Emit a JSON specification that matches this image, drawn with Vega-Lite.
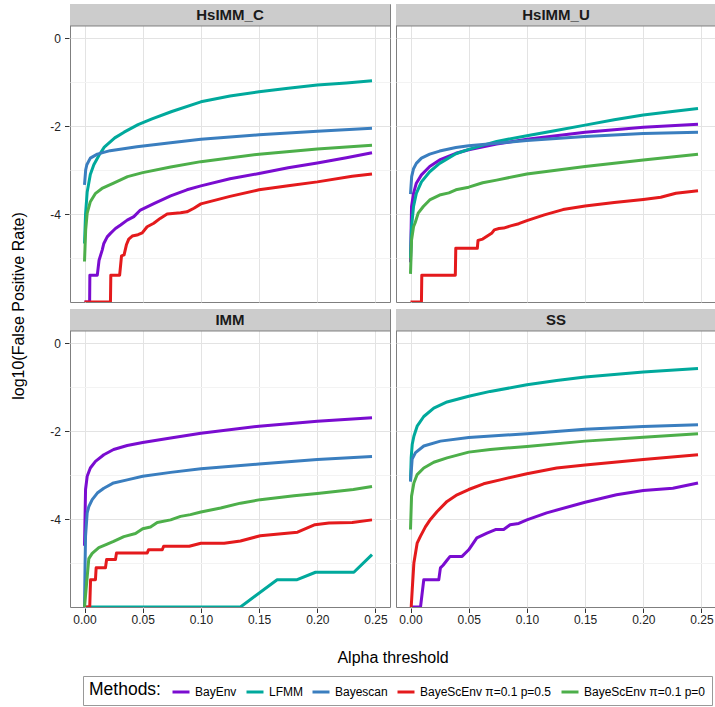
{
  "$schema": "https://vega.github.io/schema/vega-lite/v6.json",
  "padding": {"left": 10, "top": 3, "right": 1, "bottom": 1},
  "background": "white",
  "datasets": {
    "panels": [
      {"p": "HsIMM_C", "r": 1, "c": 1},
      {"p": "HsIMM_U", "r": 1, "c": 2},
      {"p": "IMM", "r": 2, "c": 1},
      {"p": "SS", "r": 2, "c": 2}
    ],
    "methods": [
      {"k": "E", "m": "BayEnv"},
      {"k": "L", "m": "LFMM"},
      {"k": "B", "m": "Bayescan"},
      {"k": "R", "m": "BayeScEnv π=0.1 p=0.5"},
      {"k": "G", "m": "BayeScEnv π=0.1 p=0"}
    ],
    "pts": [
      {"p":"HsIMM_C","k":"E","a":0,"f":-6},{"p":"HsIMM_C","k":"E","a":0.0044,"f":-6},{"p":"HsIMM_C","k":"E","a":0.0046,"f":-5.39},{"p":"HsIMM_C","k":"E","a":0.011,"f":-5.39},{"p":"HsIMM_C","k":"E","a":0.0125,"f":-5.05},{"p":"HsIMM_C","k":"E","a":0.0152,"f":-4.82},{"p":"HsIMM_C","k":"E","a":0.0166,"f":-4.67},{"p":"HsIMM_C","k":"E","a":0.0195,"f":-4.52},{"p":"HsIMM_C","k":"E","a":0.0223,"f":-4.44},{"p":"HsIMM_C","k":"E","a":0.0266,"f":-4.33},{"p":"HsIMM_C","k":"E","a":0.031,"f":-4.25},{"p":"HsIMM_C","k":"E","a":0.0367,"f":-4.14},{"p":"HsIMM_C","k":"E","a":0.0424,"f":-4.06},{"p":"HsIMM_C","k":"E","a":0.048,"f":-3.91},{"p":"HsIMM_C","k":"E","a":0.06,"f":-3.76},{"p":"HsIMM_C","k":"E","a":0.074,"f":-3.59},{"p":"HsIMM_C","k":"E","a":0.088,"f":-3.45},{"p":"HsIMM_C","k":"E","a":0.1,"f":-3.36},{"p":"HsIMM_C","k":"E","a":0.125,"f":-3.2},{"p":"HsIMM_C","k":"E","a":0.15,"f":-3.08},{"p":"HsIMM_C","k":"E","a":0.175,"f":-2.95},{"p":"HsIMM_C","k":"E","a":0.2,"f":-2.84},{"p":"HsIMM_C","k":"E","a":0.225,"f":-2.72},{"p":"HsIMM_C","k":"E","a":0.247,"f":-2.61},
      {"p":"HsIMM_C","k":"L","a":0,"f":-4.67},{"p":"HsIMM_C","k":"L","a":0.0009,"f":-4.0},{"p":"HsIMM_C","k":"L","a":0.0023,"f":-3.5},{"p":"HsIMM_C","k":"L","a":0.005,"f":-3.1},{"p":"HsIMM_C","k":"L","a":0.008,"f":-2.88},{"p":"HsIMM_C","k":"L","a":0.0126,"f":-2.66},{"p":"HsIMM_C","k":"L","a":0.017,"f":-2.48},{"p":"HsIMM_C","k":"L","a":0.026,"f":-2.27},{"p":"HsIMM_C","k":"L","a":0.034,"f":-2.14},{"p":"HsIMM_C","k":"L","a":0.046,"f":-1.97},{"p":"HsIMM_C","k":"L","a":0.058,"f":-1.84},{"p":"HsIMM_C","k":"L","a":0.075,"f":-1.67},{"p":"HsIMM_C","k":"L","a":0.1,"f":-1.45},{"p":"HsIMM_C","k":"L","a":0.125,"f":-1.32},{"p":"HsIMM_C","k":"L","a":0.15,"f":-1.22},{"p":"HsIMM_C","k":"L","a":0.175,"f":-1.14},{"p":"HsIMM_C","k":"L","a":0.2,"f":-1.07},{"p":"HsIMM_C","k":"L","a":0.225,"f":-1.02},{"p":"HsIMM_C","k":"L","a":0.247,"f":-0.97},
      {"p":"HsIMM_C","k":"B","a":0,"f":-3.34},{"p":"HsIMM_C","k":"B","a":0.001,"f":-3.0},{"p":"HsIMM_C","k":"B","a":0.002,"f":-2.88},{"p":"HsIMM_C","k":"B","a":0.005,"f":-2.73},{"p":"HsIMM_C","k":"B","a":0.011,"f":-2.64},{"p":"HsIMM_C","k":"B","a":0.022,"f":-2.56},{"p":"HsIMM_C","k":"B","a":0.045,"f":-2.47},{"p":"HsIMM_C","k":"B","a":0.074,"f":-2.38},{"p":"HsIMM_C","k":"B","a":0.1,"f":-2.3},{"p":"HsIMM_C","k":"B","a":0.15,"f":-2.2},{"p":"HsIMM_C","k":"B","a":0.2,"f":-2.12},{"p":"HsIMM_C","k":"B","a":0.247,"f":-2.05},
      {"p":"HsIMM_C","k":"R","a":0,"f":-6},{"p":"HsIMM_C","k":"R","a":0.0223,"f":-6},{"p":"HsIMM_C","k":"R","a":0.0226,"f":-5.39},{"p":"HsIMM_C","k":"R","a":0.0302,"f":-5.39},{"p":"HsIMM_C","k":"R","a":0.0318,"f":-4.95},{"p":"HsIMM_C","k":"R","a":0.034,"f":-4.93},{"p":"HsIMM_C","k":"R","a":0.036,"f":-4.7},{"p":"HsIMM_C","k":"R","a":0.038,"f":-4.57},{"p":"HsIMM_C","k":"R","a":0.041,"f":-4.5},{"p":"HsIMM_C","k":"R","a":0.046,"f":-4.47},{"p":"HsIMM_C","k":"R","a":0.0496,"f":-4.43},{"p":"HsIMM_C","k":"R","a":0.0538,"f":-4.29},{"p":"HsIMM_C","k":"R","a":0.0595,"f":-4.21},{"p":"HsIMM_C","k":"R","a":0.065,"f":-4.1},{"p":"HsIMM_C","k":"R","a":0.071,"f":-4.0},{"p":"HsIMM_C","k":"R","a":0.0825,"f":-3.97},{"p":"HsIMM_C","k":"R","a":0.088,"f":-3.95},{"p":"HsIMM_C","k":"R","a":0.094,"f":-3.87},{"p":"HsIMM_C","k":"R","a":0.1,"f":-3.77},{"p":"HsIMM_C","k":"R","a":0.125,"f":-3.6},{"p":"HsIMM_C","k":"R","a":0.15,"f":-3.45},{"p":"HsIMM_C","k":"R","a":0.175,"f":-3.36},{"p":"HsIMM_C","k":"R","a":0.2,"f":-3.27},{"p":"HsIMM_C","k":"R","a":0.23,"f":-3.14},{"p":"HsIMM_C","k":"R","a":0.247,"f":-3.09},
      {"p":"HsIMM_C","k":"G","a":0,"f":-5.08},{"p":"HsIMM_C","k":"G","a":0.001,"f":-4.36},{"p":"HsIMM_C","k":"G","a":0.0023,"f":-3.98},{"p":"HsIMM_C","k":"G","a":0.005,"f":-3.72},{"p":"HsIMM_C","k":"G","a":0.0095,"f":-3.53},{"p":"HsIMM_C","k":"G","a":0.015,"f":-3.42},{"p":"HsIMM_C","k":"G","a":0.025,"f":-3.3},{"p":"HsIMM_C","k":"G","a":0.037,"f":-3.15},{"p":"HsIMM_C","k":"G","a":0.05,"f":-3.06},{"p":"HsIMM_C","k":"G","a":0.074,"f":-2.93},{"p":"HsIMM_C","k":"G","a":0.1,"f":-2.81},{"p":"HsIMM_C","k":"G","a":0.15,"f":-2.64},{"p":"HsIMM_C","k":"G","a":0.2,"f":-2.52},{"p":"HsIMM_C","k":"G","a":0.247,"f":-2.44},

      {"p":"HsIMM_U","k":"E","a":0,"f":-5.1},{"p":"HsIMM_U","k":"E","a":0.0009,"f":-3.83},{"p":"HsIMM_U","k":"E","a":0.0026,"f":-3.53},{"p":"HsIMM_U","k":"E","a":0.005,"f":-3.3},{"p":"HsIMM_U","k":"E","a":0.0094,"f":-3.11},{"p":"HsIMM_U","k":"E","a":0.0165,"f":-2.92},{"p":"HsIMM_U","k":"E","a":0.025,"f":-2.77},{"p":"HsIMM_U","k":"E","a":0.039,"f":-2.62},{"p":"HsIMM_U","k":"E","a":0.05,"f":-2.54},{"p":"HsIMM_U","k":"E","a":0.074,"f":-2.41},{"p":"HsIMM_U","k":"E","a":0.1,"f":-2.3},{"p":"HsIMM_U","k":"E","a":0.15,"f":-2.14},{"p":"HsIMM_U","k":"E","a":0.2,"f":-2.03},{"p":"HsIMM_U","k":"E","a":0.247,"f":-1.96},
      {"p":"HsIMM_U","k":"L","a":0,"f":-5.0},{"p":"HsIMM_U","k":"L","a":0.0009,"f":-4.29},{"p":"HsIMM_U","k":"L","a":0.0026,"f":-3.83},{"p":"HsIMM_U","k":"L","a":0.005,"f":-3.53},{"p":"HsIMM_U","k":"L","a":0.0094,"f":-3.27},{"p":"HsIMM_U","k":"L","a":0.0165,"f":-3.04},{"p":"HsIMM_U","k":"L","a":0.025,"f":-2.85},{"p":"HsIMM_U","k":"L","a":0.039,"f":-2.63},{"p":"HsIMM_U","k":"L","a":0.05,"f":-2.53},{"p":"HsIMM_U","k":"L","a":0.074,"f":-2.35},{"p":"HsIMM_U","k":"L","a":0.1,"f":-2.22},{"p":"HsIMM_U","k":"L","a":0.125,"f":-2.1},{"p":"HsIMM_U","k":"L","a":0.15,"f":-1.98},{"p":"HsIMM_U","k":"L","a":0.175,"f":-1.86},{"p":"HsIMM_U","k":"L","a":0.2,"f":-1.75},{"p":"HsIMM_U","k":"L","a":0.225,"f":-1.67},{"p":"HsIMM_U","k":"L","a":0.247,"f":-1.6},
      {"p":"HsIMM_U","k":"B","a":0,"f":-3.55},{"p":"HsIMM_U","k":"B","a":0.001,"f":-3.15},{"p":"HsIMM_U","k":"B","a":0.0026,"f":-2.97},{"p":"HsIMM_U","k":"B","a":0.005,"f":-2.85},{"p":"HsIMM_U","k":"B","a":0.0094,"f":-2.73},{"p":"HsIMM_U","k":"B","a":0.0165,"f":-2.64},{"p":"HsIMM_U","k":"B","a":0.025,"f":-2.57},{"p":"HsIMM_U","k":"B","a":0.039,"f":-2.49},{"p":"HsIMM_U","k":"B","a":0.05,"f":-2.45},{"p":"HsIMM_U","k":"B","a":0.074,"f":-2.39},{"p":"HsIMM_U","k":"B","a":0.1,"f":-2.33},{"p":"HsIMM_U","k":"B","a":0.15,"f":-2.24},{"p":"HsIMM_U","k":"B","a":0.2,"f":-2.17},{"p":"HsIMM_U","k":"B","a":0.247,"f":-2.14},
      {"p":"HsIMM_U","k":"R","a":0,"f":-6},{"p":"HsIMM_U","k":"R","a":0.0094,"f":-6},{"p":"HsIMM_U","k":"R","a":0.0097,"f":-5.39},{"p":"HsIMM_U","k":"R","a":0.0385,"f":-5.39},{"p":"HsIMM_U","k":"R","a":0.0389,"f":-4.78},{"p":"HsIMM_U","k":"R","a":0.0574,"f":-4.78},{"p":"HsIMM_U","k":"R","a":0.058,"f":-4.6},{"p":"HsIMM_U","k":"R","a":0.062,"f":-4.57},{"p":"HsIMM_U","k":"R","a":0.066,"f":-4.5},{"p":"HsIMM_U","k":"R","a":0.07,"f":-4.43},{"p":"HsIMM_U","k":"R","a":0.072,"f":-4.36},{"p":"HsIMM_U","k":"R","a":0.076,"f":-4.33},{"p":"HsIMM_U","k":"R","a":0.08,"f":-4.32},{"p":"HsIMM_U","k":"R","a":0.086,"f":-4.27},{"p":"HsIMM_U","k":"R","a":0.093,"f":-4.22},{"p":"HsIMM_U","k":"R","a":0.1,"f":-4.15},{"p":"HsIMM_U","k":"R","a":0.115,"f":-4.02},{"p":"HsIMM_U","k":"R","a":0.131,"f":-3.9},{"p":"HsIMM_U","k":"R","a":0.15,"f":-3.82},{"p":"HsIMM_U","k":"R","a":0.175,"f":-3.74},{"p":"HsIMM_U","k":"R","a":0.2,"f":-3.67},{"p":"HsIMM_U","k":"R","a":0.215,"f":-3.62},{"p":"HsIMM_U","k":"R","a":0.228,"f":-3.53},{"p":"HsIMM_U","k":"R","a":0.247,"f":-3.47},
      {"p":"HsIMM_U","k":"G","a":0,"f":-5.36},{"p":"HsIMM_U","k":"G","a":0.0009,"f":-4.59},{"p":"HsIMM_U","k":"G","a":0.0026,"f":-4.29},{"p":"HsIMM_U","k":"G","a":0.004,"f":-4.2},{"p":"HsIMM_U","k":"G","a":0.0066,"f":-3.98},{"p":"HsIMM_U","k":"G","a":0.011,"f":-3.83},{"p":"HsIMM_U","k":"G","a":0.0165,"f":-3.68},{"p":"HsIMM_U","k":"G","a":0.025,"f":-3.57},{"p":"HsIMM_U","k":"G","a":0.033,"f":-3.52},{"p":"HsIMM_U","k":"G","a":0.039,"f":-3.45},{"p":"HsIMM_U","k":"G","a":0.05,"f":-3.39},{"p":"HsIMM_U","k":"G","a":0.062,"f":-3.29},{"p":"HsIMM_U","k":"G","a":0.074,"f":-3.23},{"p":"HsIMM_U","k":"G","a":0.1,"f":-3.09},{"p":"HsIMM_U","k":"G","a":0.15,"f":-2.92},{"p":"HsIMM_U","k":"G","a":0.2,"f":-2.77},{"p":"HsIMM_U","k":"G","a":0.247,"f":-2.64},

      {"p":"IMM","k":"E","a":0,"f":-4.61},{"p":"IMM","k":"E","a":0.0009,"f":-3.33},{"p":"IMM","k":"E","a":0.0023,"f":-3.03},{"p":"IMM","k":"E","a":0.005,"f":-2.84},{"p":"IMM","k":"E","a":0.0094,"f":-2.69},{"p":"IMM","k":"E","a":0.0166,"f":-2.54},{"p":"IMM","k":"E","a":0.025,"f":-2.42},{"p":"IMM","k":"E","a":0.0367,"f":-2.33},{"p":"IMM","k":"E","a":0.05,"f":-2.26},{"p":"IMM","k":"E","a":0.074,"f":-2.16},{"p":"IMM","k":"E","a":0.1,"f":-2.05},{"p":"IMM","k":"E","a":0.15,"f":-1.89},{"p":"IMM","k":"E","a":0.2,"f":-1.78},{"p":"IMM","k":"E","a":0.247,"f":-1.7},
      {"p":"IMM","k":"L","a":0,"f":-6},{"p":"IMM","k":"L","a":0.134,"f":-6},{"p":"IMM","k":"L","a":0.1655,"f":-5.38},{"p":"IMM","k":"L","a":0.1827,"f":-5.38},{"p":"IMM","k":"L","a":0.1985,"f":-5.21},{"p":"IMM","k":"L","a":0.2314,"f":-5.21},{"p":"IMM","k":"L","a":0.247,"f":-4.81},
      {"p":"IMM","k":"B","a":0,"f":-6},{"p":"IMM","k":"B","a":0.0005,"f":-5.0},{"p":"IMM","k":"B","a":0.0009,"f":-4.39},{"p":"IMM","k":"B","a":0.0023,"f":-3.86},{"p":"IMM","k":"B","a":0.0037,"f":-3.72},{"p":"IMM","k":"B","a":0.0066,"f":-3.56},{"p":"IMM","k":"B","a":0.011,"f":-3.41},{"p":"IMM","k":"B","a":0.0166,"f":-3.3},{"p":"IMM","k":"B","a":0.025,"f":-3.18},{"p":"IMM","k":"B","a":0.0367,"f":-3.11},{"p":"IMM","k":"B","a":0.05,"f":-3.03},{"p":"IMM","k":"B","a":0.074,"f":-2.94},{"p":"IMM","k":"B","a":0.1,"f":-2.86},{"p":"IMM","k":"B","a":0.15,"f":-2.75},{"p":"IMM","k":"B","a":0.2,"f":-2.65},{"p":"IMM","k":"B","a":0.247,"f":-2.58},
      {"p":"IMM","k":"R","a":0,"f":-6},{"p":"IMM","k":"R","a":0.0045,"f":-6},{"p":"IMM","k":"R","a":0.0052,"f":-5.38},{"p":"IMM","k":"R","a":0.0094,"f":-5.38},{"p":"IMM","k":"R","a":0.0100,"f":-5.11},{"p":"IMM","k":"R","a":0.018,"f":-5.11},{"p":"IMM","k":"R","a":0.019,"f":-4.92},{"p":"IMM","k":"R","a":0.0266,"f":-4.92},{"p":"IMM","k":"R","a":0.0275,"f":-4.77},{"p":"IMM","k":"R","a":0.0539,"f":-4.77},{"p":"IMM","k":"R","a":0.055,"f":-4.7},{"p":"IMM","k":"R","a":0.0668,"f":-4.7},{"p":"IMM","k":"R","a":0.068,"f":-4.62},{"p":"IMM","k":"R","a":0.09,"f":-4.62},{"p":"IMM","k":"R","a":0.1,"f":-4.55},{"p":"IMM","k":"R","a":0.12,"f":-4.55},{"p":"IMM","k":"R","a":0.134,"f":-4.5},{"p":"IMM","k":"R","a":0.151,"f":-4.38},{"p":"IMM","k":"R","a":0.183,"f":-4.3},{"p":"IMM","k":"R","a":0.198,"f":-4.13},{"p":"IMM","k":"R","a":0.21,"f":-4.09},{"p":"IMM","k":"R","a":0.23,"f":-4.08},{"p":"IMM","k":"R","a":0.247,"f":-4.02},
      {"p":"IMM","k":"G","a":0,"f":-6},{"p":"IMM","k":"G","a":0.0037,"f":-4.9},{"p":"IMM","k":"G","a":0.0066,"f":-4.78},{"p":"IMM","k":"G","a":0.0123,"f":-4.65},{"p":"IMM","k":"G","a":0.0195,"f":-4.57},{"p":"IMM","k":"G","a":0.025,"f":-4.51},{"p":"IMM","k":"G","a":0.0338,"f":-4.4},{"p":"IMM","k":"G","a":0.0438,"f":-4.33},{"p":"IMM","k":"G","a":0.05,"f":-4.22},{"p":"IMM","k":"G","a":0.0567,"f":-4.18},{"p":"IMM","k":"G","a":0.0625,"f":-4.08},{"p":"IMM","k":"G","a":0.074,"f":-4.02},{"p":"IMM","k":"G","a":0.0825,"f":-3.94},{"p":"IMM","k":"G","a":0.091,"f":-3.9},{"p":"IMM","k":"G","a":0.1,"f":-3.84},{"p":"IMM","k":"G","a":0.117,"f":-3.75},{"p":"IMM","k":"G","a":0.134,"f":-3.64},{"p":"IMM","k":"G","a":0.151,"f":-3.56},{"p":"IMM","k":"G","a":0.18,"f":-3.47},{"p":"IMM","k":"G","a":0.2,"f":-3.42},{"p":"IMM","k":"G","a":0.231,"f":-3.33},{"p":"IMM","k":"G","a":0.247,"f":-3.26},

      {"p":"SS","k":"E","a":0,"f":-6},{"p":"SS","k":"E","a":0.0086,"f":-6},{"p":"SS","k":"E","a":0.0114,"f":-5.38},{"p":"SS","k":"E","a":0.0243,"f":-5.38},{"p":"SS","k":"E","a":0.0257,"f":-5.11},{"p":"SS","k":"E","a":0.028,"f":-5.05},{"p":"SS","k":"E","a":0.031,"f":-4.95},{"p":"SS","k":"E","a":0.034,"f":-4.85},{"p":"SS","k":"E","a":0.0443,"f":-4.85},{"p":"SS","k":"E","a":0.05,"f":-4.7},{"p":"SS","k":"E","a":0.057,"f":-4.43},{"p":"SS","k":"E","a":0.0657,"f":-4.32},{"p":"SS","k":"E","a":0.073,"f":-4.24},{"p":"SS","k":"E","a":0.08,"f":-4.24},{"p":"SS","k":"E","a":0.0856,"f":-4.13},{"p":"SS","k":"E","a":0.093,"f":-4.1},{"p":"SS","k":"E","a":0.1,"f":-4.02},{"p":"SS","k":"E","a":0.117,"f":-3.86},{"p":"SS","k":"E","a":0.15,"f":-3.62},{"p":"SS","k":"E","a":0.177,"f":-3.45},{"p":"SS","k":"E","a":0.2,"f":-3.35},{"p":"SS","k":"E","a":0.2254,"f":-3.3},{"p":"SS","k":"E","a":0.247,"f":-3.18},
      {"p":"SS","k":"L","a":0,"f":-3.14},{"p":"SS","k":"L","a":0.0006,"f":-2.6},{"p":"SS","k":"L","a":0.0015,"f":-2.3},{"p":"SS","k":"L","a":0.0029,"f":-2.12},{"p":"SS","k":"L","a":0.0057,"f":-1.89},{"p":"SS","k":"L","a":0.0114,"f":-1.67},{"p":"SS","k":"L","a":0.02,"f":-1.48},{"p":"SS","k":"L","a":0.0314,"f":-1.34},{"p":"SS","k":"L","a":0.05,"f":-1.21},{"p":"SS","k":"L","a":0.0685,"f":-1.1},{"p":"SS","k":"L","a":0.1,"f":-0.95},{"p":"SS","k":"L","a":0.1256,"f":-0.85},{"p":"SS","k":"L","a":0.15,"f":-0.77},{"p":"SS","k":"L","a":0.2,"f":-0.66},{"p":"SS","k":"L","a":0.247,"f":-0.58},
      {"p":"SS","k":"B","a":0,"f":-3.15},{"p":"SS","k":"B","a":0.0014,"f":-2.64},{"p":"SS","k":"B","a":0.0043,"f":-2.49},{"p":"SS","k":"B","a":0.0114,"f":-2.34},{"p":"SS","k":"B","a":0.0257,"f":-2.23},{"p":"SS","k":"B","a":0.05,"f":-2.15},{"p":"SS","k":"B","a":0.1,"f":-2.06},{"p":"SS","k":"B","a":0.15,"f":-1.96},{"p":"SS","k":"B","a":0.2,"f":-1.9},{"p":"SS","k":"B","a":0.247,"f":-1.86},
      {"p":"SS","k":"R","a":0,"f":-6},{"p":"SS","k":"R","a":0.0006,"f":-6},{"p":"SS","k":"R","a":0.0015,"f":-5.6},{"p":"SS","k":"R","a":0.0029,"f":-5.0},{"p":"SS","k":"R","a":0.0057,"f":-4.55},{"p":"SS","k":"R","a":0.0086,"f":-4.39},{"p":"SS","k":"R","a":0.0128,"f":-4.18},{"p":"SS","k":"R","a":0.0171,"f":-4.01},{"p":"SS","k":"R","a":0.0229,"f":-3.83},{"p":"SS","k":"R","a":0.0314,"f":-3.6},{"p":"SS","k":"R","a":0.04,"f":-3.45},{"p":"SS","k":"R","a":0.05,"f":-3.33},{"p":"SS","k":"R","a":0.0628,"f":-3.2},{"p":"SS","k":"R","a":0.077,"f":-3.11},{"p":"SS","k":"R","a":0.1,"f":-2.97},{"p":"SS","k":"R","a":0.1256,"f":-2.84},{"p":"SS","k":"R","a":0.15,"f":-2.77},{"p":"SS","k":"R","a":0.2,"f":-2.65},{"p":"SS","k":"R","a":0.247,"f":-2.54},
      {"p":"SS","k":"G","a":0,"f":-4.24},{"p":"SS","k":"G","a":0.0009,"f":-3.48},{"p":"SS","k":"G","a":0.0029,"f":-3.18},{"p":"SS","k":"G","a":0.0057,"f":-2.99},{"p":"SS","k":"G","a":0.0114,"f":-2.84},{"p":"SS","k":"G","a":0.02,"f":-2.71},{"p":"SS","k":"G","a":0.0314,"f":-2.61},{"p":"SS","k":"G","a":0.05,"f":-2.48},{"p":"SS","k":"G","a":0.0685,"f":-2.42},{"p":"SS","k":"G","a":0.1,"f":-2.35},{"p":"SS","k":"G","a":0.15,"f":-2.23},{"p":"SS","k":"G","a":0.2,"f":-2.14},{"p":"SS","k":"G","a":0.247,"f":-2.06}
    ]
  },
  "data": {"name": "pts"},
  "transform": [
    {"lookup": "p", "from": {"data": {"name": "panels"}, "key": "p", "fields": ["r", "c"]}},
    {"lookup": "k", "from": {"data": {"name": "methods"}, "key": "k", "fields": ["m"]}}
  ],
  "facet": {
    "row": {"field": "r", "type": "ordinal", "title": "log10(False Positive Rate)",
      "header": {"labels": false, "titleOrient": "left", "titleFont": "Liberation Sans", "titleFontSize": 16, "titleFontWeight": "normal", "titleColor": "black", "titlePadding": 12}},
    "column": {"field": "c", "type": "ordinal", "title": "Alpha threshold",
      "header": {"labels": false, "titleOrient": "bottom", "titleFont": "Liberation Sans", "titleFontSize": 16, "titleFontWeight": "normal", "titleColor": "black", "titlePadding": 14}}
  },
  "spacing": {"row": 5, "column": 4},
  "spec": {
    "width": 320,
    "height": 298,
    "layer": [
      {
        "mark": {"type": "line", "strokeWidth": 3, "clip": true, "strokeJoin": "round"},
        "encoding": {
          "x": {"field": "a", "type": "quantitative",
            "scale": {"domain": [-0.01246, 0.26246], "nice": false, "zero": false},
            "axis": {"title": null, "values": [0, 0.025, 0.05, 0.075, 0.1, 0.125, 0.15, 0.175, 0.2, 0.225, 0.25],
              "labelExpr": "round(datum.value*40) % 2 == 0 ? format(datum.value, '.2f') : ''",
              "labelPadding": 2,
              "gridColor": {"condition": {"test": "round(datum.value*40) % 2 == 0", "value": "#E3E3E3"}, "value": "#F3F3F3"},
              "tickOpacity": {"condition": {"test": "round(datum.value*40) % 2 == 0", "value": 1}, "value": 0}}},
          "y": {"field": "f", "type": "quantitative",
            "scale": {"domain": [-6, 0.773], "nice": false, "zero": false},
            "axis": {"title": null, "values": [-5, -4, -3, -2, -1, 0],
              "labelExpr": "datum.value % 2 == 0 ? '' + datum.value : ''",
              "labelPadding": 4,
              "gridColor": {"condition": {"test": "datum.value % 2 == 0", "value": "#E3E3E3"}, "value": "#F3F3F3"},
              "tickOpacity": {"condition": {"test": "datum.value % 2 == 0", "value": 1}, "value": 0}}},
          "color": {"field": "m", "type": "nominal",
            "scale": {"domain": ["BayEnv", "LFMM", "Bayescan", "BayeScEnv π=0.1 p=0.5", "BayeScEnv π=0.1 p=0"],
              "range": ["#7A0CD0", "#00A99C", "#3A7EBF", "#E41A1C", "#4DAF4A"]},
            "legend": {"title": "Methods:", "orient": "none", "legendX": 13, "legendY": 672}}
        }
      },
      {
        "transform": [{"aggregate": [{"op": "count", "as": "n"}], "groupby": ["p", "r", "c"]}],
        "mark": {"type": "rect", "fill": "#CCCCCC", "stroke": "#7F7F7F", "strokeWidth": 1, "clip": true},
        "encoding": {
          "x": {"datum": -1, "type": "quantitative"},
          "x2": {"datum": 1},
          "y": {"datum": 0.273, "type": "quantitative"},
          "y2": {"datum": 5}
        }
      },
      {
        "transform": [{"aggregate": [{"op": "count", "as": "n"}], "groupby": ["p", "r", "c"]}],
        "mark": {"type": "text", "font": "Liberation Sans", "fontSize": 15, "fontWeight": "bold", "color": "#1A1A1A", "align": "center", "baseline": "middle"},
        "encoding": {
          "x": {"datum": 0.125, "type": "quantitative"},
          "y": {"datum": 0.525, "type": "quantitative"},
          "text": {"field": "p", "type": "nominal"}
        }
      }
    ]
  },
  "config": {
    "font": "Liberation Sans",
    "view": {"stroke": "#7F7F7F", "strokeWidth": 1},
    "axis": {"domain": false, "labelFont": "Liberation Sans", "labelFontSize": 12, "labelColor": "#222222", "tickColor": "#333333", "tickSize": 4.5, "gridWidth": 1},
    "legend": {"direction": "horizontal", "titleOrient": "left", "titleFont": "Liberation Sans", "titleFontSize": 17.5, "titleFontWeight": "normal", "titleColor": "black", "labelFont": "Liberation Sans", "labelFontSize": 12, "labelColor": "black", "symbolType": "stroke", "symbolStrokeWidth": 3, "symbolSize": 289, "strokeColor": "#999999", "padding": 6, "columnPadding": 3, "labelOffset": 4, "titlePadding": 10}
  }
}
